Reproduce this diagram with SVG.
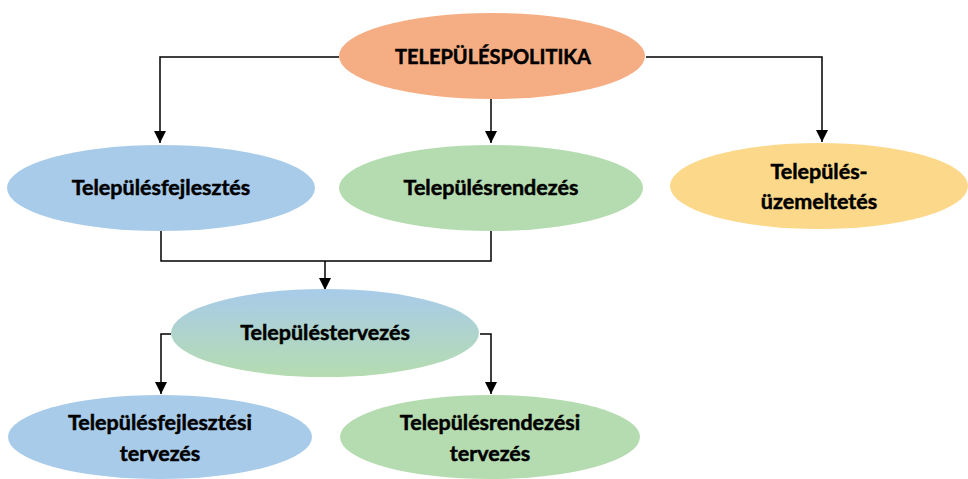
<svg xmlns="http://www.w3.org/2000/svg" width="968" height="479" viewBox="0 0 968 479">
<defs>
<marker id="ah" markerWidth="12" markerHeight="13" refX="10" refY="5" orient="auto" markerUnits="userSpaceOnUse" viewBox="0 0 10 10">
<path d="M0,0 L10,5 L0,10 Z" fill="#000"/>
</marker>
<linearGradient id="gtv" x1="0" y1="0" x2="0" y2="1">
<stop offset="0" stop-color="#A8CBEA"/>
<stop offset="1" stop-color="#B5DCB0"/>
</linearGradient>
<style>
.lbl{font-family:Lato,"Liberation Sans",sans-serif;font-weight:700;font-size:21.5px;fill:#000;stroke:#000;stroke-width:0.5;text-anchor:middle}
.c{fill:none;stroke:#000;stroke-width:1.5}
</style>
</defs>
<rect width="968" height="479" fill="#fff"/>
<g id="connectors">
<path class="c" d="M339,57 H160 V143" marker-end="url(#ah)"/>
<path class="c" d="M491,99 V143" marker-end="url(#ah)"/>
<path class="c" d="M646,57 H822 V142" marker-end="url(#ah)"/>
<path class="c" d="M161,231 V261 H491 V231"/>
<path class="c" d="M325,261 V290" marker-end="url(#ah)"/>
<path class="c" d="M171,334 H161 V394" marker-end="url(#ah)"/>
<path class="c" d="M480,334 H491 V394" marker-end="url(#ah)"/>
</g>
<g id="telepulespolitika">
<ellipse cx="492" cy="56" rx="153" ry="43" fill="#F5AE84"/>
<text class="lbl" x="493" y="64" style="font-size:20px">TELEPÜLÉSPOLITIKA</text>
</g>
<g id="telepulesfejlesztes">
<ellipse cx="161" cy="188" rx="154" ry="43" fill="#A8CBEA"/>
<text class="lbl" x="161" y="195">Településfejlesztés</text>
</g>
<g id="telepulesrendezes">
<ellipse cx="491" cy="188" rx="152" ry="43" fill="#B5DCB0"/>
<text class="lbl" x="491" y="195">Településrendezés</text>
</g>
<g id="telepulesuzemeltetes">
<ellipse cx="819" cy="186" rx="149" ry="43" fill="#FCD98A"/>
<text class="lbl" x="819" y="179">Település-</text>
<text class="lbl" x="819" y="209">üzemeltetés</text>
</g>
<g id="telepulestervezes">
<ellipse cx="325" cy="333" rx="154" ry="44" fill="url(#gtv)"/>
<text class="lbl" x="325" y="340">Településtervezés</text>
</g>
<g id="telepulesfejlesztesi-tervezes">
<ellipse cx="160" cy="437" rx="152" ry="42" fill="#A8CBEA"/>
<text class="lbl" x="160" y="430">Településfejlesztési</text>
<text class="lbl" x="160" y="461">tervezés</text>
</g>
<g id="telepulesrendezesi-tervezes">
<ellipse cx="490" cy="437" rx="150" ry="42" fill="#B5DCB0"/>
<text class="lbl" x="490" y="430">Településrendezési</text>
<text class="lbl" x="490" y="461">tervezés</text>
</g>
</svg>
